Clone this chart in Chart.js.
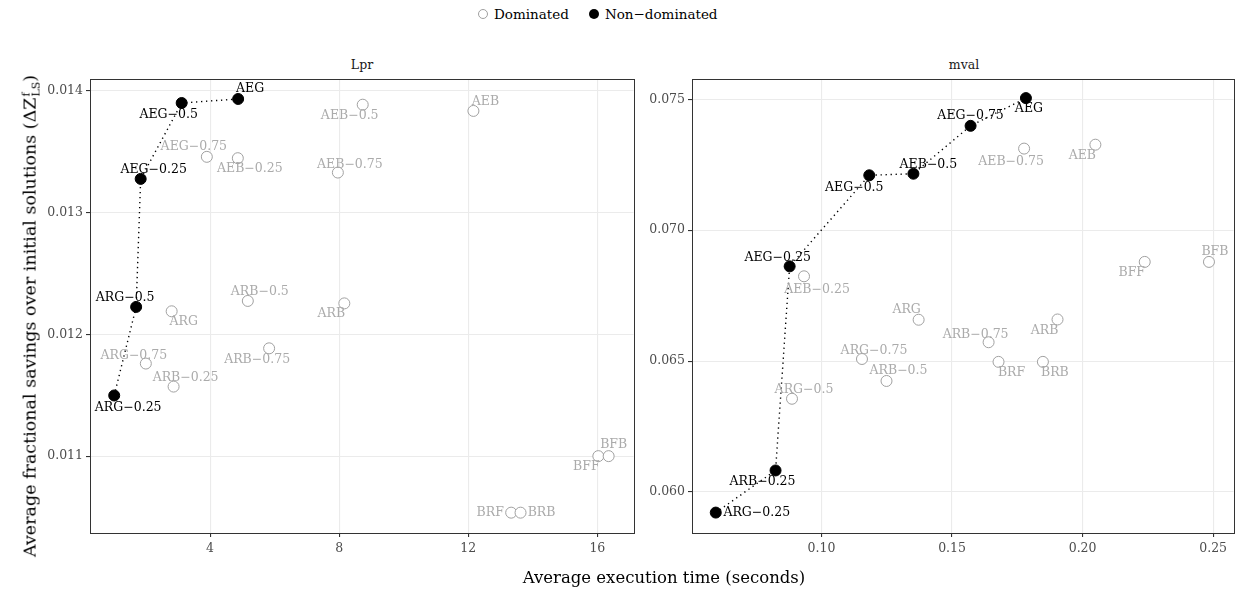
<!DOCTYPE html>
<html>
<head>
<meta charset="UTF-8">
<title>Execution time vs savings</title>
<script src="https://cdn.jsdelivr.net/npm/chart.js"></script>
<style>
  body { margin: 0; width: 1240px; height: 591px; background: #fff; font-family: 'DejaVu Serif', serif; position: relative; overflow: hidden; }
  .panel { position: absolute; top: 60px; width: 600px; height: 510px; }
  .strip { position: absolute; top: 57px; font-size: 12.5px; color: #1a1a1a; transform: translateX(-50%); }
  .legend { position: absolute; top: 6px; left: 478px; font-size: 13.5px; display: flex; align-items: center; }
  .dot { display: inline-block; width: 10px; height: 10px; border-radius: 50%; box-sizing: border-box; margin-right: 6px; }
  .xtitle { position: absolute; top: 568px; left: 664px; transform: translateX(-50%); font-size: 16.5px; white-space: nowrap; }
  .ytitle { position: absolute; left: 30px; top: 316px; transform: translate(-50%, -50%) rotate(-90deg); font-size: 17.5px; white-space: nowrap; }
  .supsub { display: inline-block; vertical-align: middle; line-height: 0.85; font-size: 11px; text-align: left; margin-left: 1px; }
</style>
</head>
<body>
<div class="legend">
  <span class="dot" style="border:1px solid #a0a0a0;background:#fff"></span><span style="margin-right:20px">Dominated</span>
  <span class="dot" style="background:#000"></span><span>Non−dominated</span>
</div>
<div class="strip" style="left:362px">Lpr</div>
<div class="strip" style="left:964px">mval</div>
<div class="panel" style="left:40px"><canvas id="lpr"></canvas></div>
<div class="panel" style="left:640px"><canvas id="mval"></canvas></div>
<div class="xtitle">Average execution time (seconds)</div>
<div class="ytitle">Average fractional savings over initial solutions (ΔZ<span class="supsub">f<br>LS</span>)</div>
<script>
// methods, same order for both instances
const methods = ['AEG', 'AEG-0.25', 'AEG-0.5', 'AEG-0.75', 'AEB', 'AEB-0.25', 'AEB-0.5', 'AEB-0.75',
  'ARG', 'ARG-0.25', 'ARG-0.5', 'ARG-0.75', 'ARB', 'ARB-0.25', 'ARB-0.5', 'ARB-0.75',
  'BFF', 'BFB', 'BRF', 'BRB'];

// Lpr
const lprTime = [4.87, 1.85, 3.12, 3.90, 12.16, 4.86, 8.73, 7.96,
  2.81, 1.03, 1.71, 2.01, 8.16, 2.87, 5.17, 5.83,
  16.03, 16.35, 13.33, 13.62];
const lprSaving = [0.013932, 0.013276, 0.013899, 0.013457, 0.013834, 0.013446, 0.013885, 0.013328,
  0.012189, 0.011498, 0.012225, 0.011760, 0.012254, 0.011571, 0.012274, 0.011885,
  0.011000, 0.011000, 0.010536, 0.010536];
const lprFront = ['AEG', 'AEG-0.25', 'AEG-0.5', 'ARG-0.25', 'ARG-0.5'];
const lprXTicks = [4, 8, 12, 16];
const lprYTicks = [0.011, 0.012, 0.013, 0.014];

// mval
const mvalTime = [0.1783, 0.0878, 0.1183, 0.1571, 0.2049, 0.0933, 0.1352, 0.1776,
  0.1372, 0.0595, 0.0887, 0.1155, 0.1904, 0.0824, 0.1249, 0.1640,
  0.2238, 0.2484, 0.1678, 0.1848];
const mvalSaving = [0.07505, 0.06862, 0.07210, 0.07399, 0.07327, 0.06824, 0.07216, 0.07312,
  0.06658, 0.05921, 0.06356, 0.06508, 0.06659, 0.06082, 0.06424, 0.06572,
  0.06879, 0.06879, 0.06497, 0.06497];
const mvalFront = ['AEG', 'AEG-0.25', 'AEG-0.5', 'AEG-0.75', 'AEB-0.5', 'ARB-0.25', 'ARG-0.25'];
const mvalXTicks = [0.10, 0.15, 0.20, 0.25];
const mvalYTicks = [0.060, 0.065, 0.070, 0.075];

// where each text label sits relative to its point (px)
const lprLabelPos = {
  'AEG': [12, -10], 'AEG-0.5': [-13, 12], 'AEG-0.25': [13, -9], 'AEG-0.75': [-13, -10],
  'AEB-0.25': [12, 11], 'AEB-0.5': [-13, 11], 'AEB-0.75': [12, -8], 'AEB': [12, -9],
  'ARG-0.5': [-11, -9], 'ARG-0.25': [14, 12], 'ARG': [12, 10], 'ARG-0.75': [-12, -8],
  'ARB-0.25': [12, -9], 'ARB-0.5': [12, -9], 'ARB': [-13, 10], 'ARB-0.75': [-12, 11],
  'BFF': [-12, 11], 'BFB': [5, -11], 'BRF': [-21, 0], 'BRB': [21, 0]
};
const mvalLabelPos = {
  'AEG': [3, 11], 'AEG-0.75': [0, -10], 'AEG-0.5': [-15, 12], 'AEB-0.5': [15, -9],
  'AEG-0.25': [-12, -9], 'AEB-0.25': [13, 13], 'ARG': [-12, -10], 'ARG-0.75': [12, -8],
  'ARB-0.5': [12, -10], 'ARG-0.5': [12, -9], 'AEB-0.75': [-13, 13], 'AEB': [-13, 11],
  'BFF': [-13, 11], 'BFB': [6, -10], 'ARB': [-13, 11], 'ARB-0.75': [-13, -7],
  'BRF': [13, 11], 'BRB': [12, 11], 'ARB-0.25': [-13, 11], 'ARG-0.25': [41, 0]
};

const minus = s => s.replace('-', '\u2212');

const pointLabels = {
  id: 'pointLabels',
  afterDatasetsDraw(chart, args, opts) {
    const { ctx, scales: { x, y } } = chart;
    ctx.save();
    ctx.font = '12.5px "DejaVu Serif"';
    ctx.textAlign = 'center';
    ctx.textBaseline = 'middle';
    methods.forEach((m, i) => {
      const off = opts.pos[m] || [0, 0];
      ctx.fillStyle = opts.front.includes(m) ? '#000' : '#ababab';
      ctx.fillText(minus(m), x.getPixelForValue(opts.xs[i]) + off[0], y.getPixelForValue(opts.ys[i]) + off[1]);
    });
    ctx.restore();
  }
};

const panelBorder = {
  id: 'panelBorder',
  afterDraw(chart) {
    const { ctx, chartArea: a } = chart;
    ctx.save();
    ctx.strokeStyle = '#333';
    ctx.lineWidth = 1;
    ctx.strokeRect(Math.round(a.left) + 0.5, Math.round(a.top) + 0.5, Math.round(a.width), Math.round(a.height));
    ctx.restore();
  }
};

function makePanel(id, xs, ys, front, xTicks, yTicks, xr, yr, pos, yWidth, padRight, fmtX, fmtY) {
  const pts = methods.map((m, i) => ({ x: xs[i], y: ys[i], m }));
  const dominated = pts.filter(p => !front.includes(p.m));
  const nondom = pts.filter(p => front.includes(p.m));
  const line = nondom.slice().sort((a, b) => a.x - b.x);
  const tickFont = { family: 'DejaVu Serif', size: 12.5 };
  new Chart(document.getElementById(id), {
    type: 'scatter',
    data: {
      datasets: [
        { type: 'line', data: line, borderColor: '#000', borderWidth: 1.4, borderDash: [1.3, 3.7],
          pointRadius: 0, fill: false, tension: 0, order: 3 },
        { data: dominated, pointRadius: 5.5, pointBackgroundColor: '#fff', pointBorderColor: '#a0a0a0',
          pointBorderWidth: 1, order: 2 },
        { data: nondom, pointRadius: 5.5, pointBackgroundColor: '#000', pointBorderColor: '#000',
          pointBorderWidth: 1, order: 1 }
      ]
    },
    options: {
      responsive: true,
      maintainAspectRatio: false,
      animation: false,
      layout: { padding: { top: 19, right: padRight, left: 0, bottom: 0 } },
      plugins: {
        legend: { display: false },
        tooltip: { enabled: false },
        pointLabels: { xs, ys, front, pos }
      },
      scales: {
        x: {
          type: 'linear', min: xr[0], max: xr[1],
          afterBuildTicks: s => { s.ticks = xTicks.map(v => ({ value: v })); },
          afterFit: s => { s.height = 37; },
          grid: { color: '#ebebeb', lineWidth: 1.1, tickColor: '#333', tickLength: 4 },
          border: { display: false },
          ticks: { color: '#4d4d4d', font: tickFont, padding: 4, callback: fmtX }
        },
        y: {
          type: 'linear', min: yr[0], max: yr[1],
          afterBuildTicks: s => { s.ticks = yTicks.map(v => ({ value: v })); },
          afterFit: s => { s.width = yWidth; },
          grid: { color: '#ebebeb', lineWidth: 1.1, tickColor: '#333', tickLength: 4 },
          border: { display: false },
          ticks: { color: '#4d4d4d', font: tickFont, padding: 3, callback: fmtY }
        }
      }
    },
    plugins: [pointLabels, panelBorder]
  });
}

makePanel('lpr', lprTime, lprSaving, lprFront, lprXTicks, lprYTicks,
  [0.28, 17.12], [0.010369, 0.014096], lprLabelPos, 50, 6,
  v => String(v), v => v.toFixed(3));
makePanel('mval', mvalTime, mvalSaving, mvalFront, mvalXTicks, mvalYTicks,
  [0.0504, 0.2578], [0.05843, 0.07578], mvalLabelPos, 52, 3,
  v => v.toFixed(2), v => v.toFixed(3));
</script>
</body>
</html>
